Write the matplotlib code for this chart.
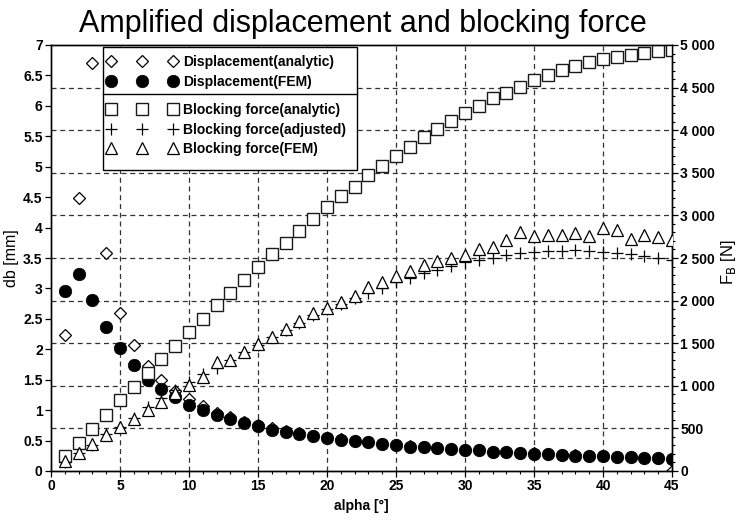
import matplotlib
matplotlib.use("Agg")
import matplotlib.pyplot as plt
from matplotlib.ticker import MultipleLocator, FuncFormatter
from matplotlib.patches import Rectangle
from matplotlib.lines import Line2D

plt.rcParams['font.family'] = ['Liberation Sans', 'DejaVu Sans']

alpha = list(range(1, 46))

disp_analytic = [2.23, 4.48, 6.70, 3.58, 2.60, 2.07, 1.73, 1.49, 1.31, 1.18, 1.07,
                 0.96, 0.88, 0.81, 0.76, 0.70, 0.66, 0.62, 0.58, 0.55, 0.52, 0.50,
                 0.47, 0.45, 0.43, 0.41, 0.39, 0.38, 0.36, 0.35, 0.34, 0.32, 0.31,
                 0.30, 0.29, 0.28, 0.27, 0.26, 0.25, 0.24, 0.23, 0.23, 0.22, 0.21, 0.0]

disp_fem = [2.95, 3.23, 2.81, 2.37, 2.02, 1.74, 1.50, 1.35, 1.21, 1.09, 1.00,
            0.92, 0.85, 0.79, 0.74, 0.68, 0.64, 0.61, 0.57, 0.55, 0.51, 0.49,
            0.47, 0.44, 0.43, 0.40, 0.39, 0.37, 0.36, 0.35, 0.34, 0.32, 0.31,
            0.29, 0.28, 0.28, 0.27, 0.25, 0.25, 0.24, 0.23, 0.23, 0.21, 0.21, 0.19]

force_analytic = [176, 325, 490, 662, 830, 990, 1154, 1313, 1473, 1632, 1785,
                  1943, 2093, 2242, 2392, 2544, 2680, 2821, 2958, 3096, 3232, 3338,
                  3475, 3581, 3698, 3808, 3918, 4015, 4112, 4207, 4285, 4376, 4441,
                  4504, 4590, 4649, 4708, 4758, 4798, 4833, 4864, 4884, 4911, 4931, 4942]

force_adjusted = [108, 206, 303, 430, 522, 625, 748, 856, 946, 1045, 1140,
                  1205, 1303, 1395, 1480, 1570, 1655, 1735, 1830, 1898, 1960, 2027,
                  2093, 2145, 2223, 2262, 2321, 2360, 2407, 2450, 2477, 2500, 2536,
                  2556, 2575, 2578, 2580, 2595, 2578, 2575, 2563, 2548, 2524, 2497, 2477]

force_fem = [117, 215, 317, 423, 515, 615, 716, 814, 912, 1010, 1107,
             1283, 1303, 1395, 1487, 1577, 1667, 1761, 1851, 1915, 1988, 2058,
             2156, 2215, 2293, 2352, 2418, 2469, 2497, 2536, 2600, 2626, 2712,
             2810, 2760, 2770, 2775, 2798, 2760, 2849, 2829, 2725, 2765, 2743, 2708]

labels = ["Displacement(analytic)", "Displacement(FEM)",
          "Blocking force(analytic)", "Blocking force(adjusted)", "Blocking force(FEM)"]

W, H = 740, 525
fig = plt.figure(figsize=(W / 100, H / 100), dpi=100)
ax = fig.add_axes([51 / W, 54 / H, 621 / W, 426 / H])
ax2 = ax.twinx()

DMAX, FMAX = 7.0, 5000.0
ax.set_xlim(0, 45)
ax.set_ylim(0, DMAX)
ax2.set_ylim(0, FMAX)

# grid (behind everything)
grid_kw = dict(color='#333333', lw=0.9, ls=(0, (4, 3)), zorder=0.5)
for xv in range(5, 45, 5):
    ax.axvline(xv, **grid_kw)
for fv in range(500, 5000, 500):
    ax.axhline(fv * DMAX / FMAX, **grid_kw)

h1, = ax.plot(alpha, disp_analytic, ls='none', marker='D', ms=6, mfc='white',
              mec='black', mew=0.9, zorder=2)
h2, = ax.plot(alpha, disp_fem, ls='none', marker='o', ms=9, mfc='black',
              mec='black', mew=0.5, zorder=3)
h3, = ax2.plot(alpha, force_analytic, ls='none', marker='s', ms=9, mfc='white',
               mec='#1a1a1a', mew=1.0, zorder=2)
h4, = ax2.plot(alpha, force_adjusted, ls='none', marker='+', ms=9, mec='black',
               mew=0.9, zorder=2.5)
h5, = ax2.plot(alpha, force_fem, ls='none', marker='^', ms=8.5, mfc='white',
               mec='black', mew=0.9, zorder=3)

ax.xaxis.set_major_locator(MultipleLocator(5))
ax.xaxis.set_minor_locator(MultipleLocator(1))
ax.yaxis.set_major_locator(MultipleLocator(0.5))
ax.yaxis.set_major_formatter(FuncFormatter(lambda v, p: f"{v:g}"))
ax2.yaxis.set_major_locator(MultipleLocator(500))
ax2.yaxis.set_minor_locator(MultipleLocator(100))
ax2.yaxis.set_major_formatter(FuncFormatter(lambda v, p: f"{int(round(v)):,}".replace(',', ' ')))

ax.tick_params(axis='both', which='major', direction='out', length=4, width=0.9,
               labelsize=10, pad=2)
ax.tick_params(axis='x', which='minor', direction='out', length=2.5, width=0.8)
ax2.tick_params(axis='y', which='major', direction='out', length=4, width=0.9,
                labelsize=10, pad=2)
ax2.tick_params(axis='y', which='minor', direction='out', length=2.5, width=0.8)
for lab in ax.get_xticklabels() + ax.get_yticklabels() + ax2.get_yticklabels():
    lab.set_fontweight('bold')

for a in (ax, ax2):
    for s in a.spines.values():
        s.set_color('black')
        s.set_linewidth(1.0)

ax.set_xlabel("alpha [°]", fontsize=10, fontweight='bold', labelpad=4)
ax.set_ylabel("db [mm]", fontsize=11.5, labelpad=3)
ax2.set_ylabel(r"F$_\mathrm{B}$ [N]", fontsize=12)
ax2.yaxis.set_label_coords(729 / W, 0.5, transform=fig.transFigure)
ax2.yaxis.label.set_va('center')

fig.text(363 / W, 1 - 32 / H, "Amplified displacement and blocking force",
         ha='center', va='baseline', fontsize=22)

# legend: framed box with separator between two groups
fx = lambda px: px / W
fy = lambda py: 1 - py / H
box = Rectangle((fx(103), fy(170)), fx(357) - fx(103), fy(47) - fy(170),
                transform=fig.transFigure, facecolor='white', edgecolor='black',
                lw=1.0, zorder=4, clip_on=False)
ax2.add_artist(box)
sep = Line2D([fx(103), fx(357)], [fy(94.5), fy(94.5)], transform=fig.transFigure,
             color='black', lw=1.0, zorder=4.5, clip_on=False)
ax2.add_artist(sep)

leg_kw = dict(loc='upper left', bbox_transform=fig.transFigure, frameon=False,
              numpoints=3, handlelength=5.06, handletextpad=0.43, borderpad=0,
              borderaxespad=0, labelspacing=0.4,
              prop=dict(size=10, weight='bold'))
legA = ax2.legend([h1, h2], labels[:2], bbox_to_anchor=(fx(106.8), fy(55)), **leg_kw)
ax2.add_artist(legA)
legB = ax2.legend([h3, h4, h5], labels[2:], bbox_to_anchor=(fx(106.8), fy(103)), **leg_kw)
legA.set_zorder(6)
legB.set_zorder(6)

fig.savefig("out.png", dpi=100)
